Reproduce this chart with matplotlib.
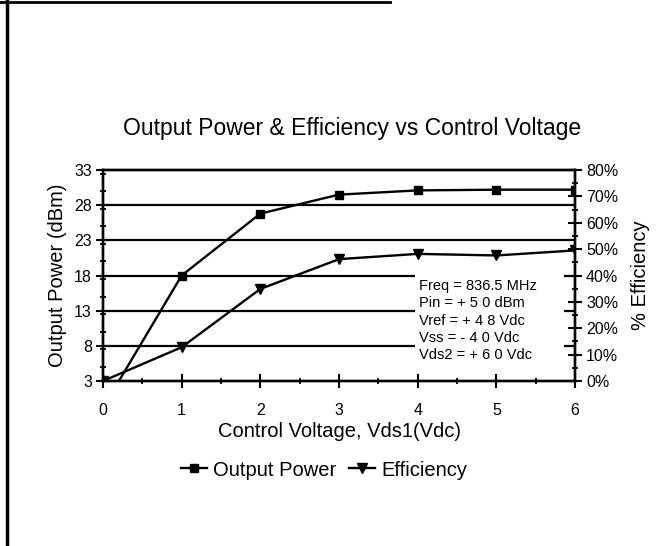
import numpy as np
import matplotlib
matplotlib.use("Agg")
import matplotlib.pyplot as plt
from matplotlib.ticker import MultipleLocator, PercentFormatter
from matplotlib.lines import Line2D
from matplotlib.patches import Rectangle

plt.rcParams['font.family'] = ['Liberation Sans', 'DejaVu Sans']

vds1 = [0, 1, 2, 3, 4, 5, 6]
output_power = [-0.8, 18.0, 26.8, 29.5, 30.1, 30.2, 30.2]   # dBm
efficiency = [0.0, 12.8, 34.9, 46.2, 48.2, 47.6, 49.5]      # %
power_ticks = [3, 8, 13, 18, 23, 28, 33]
conditions = ["Freq = 836.5 MHz", "Pin = + 5 0 dBm", "Vref = + 4 8 Vdc",
              "Vss = - 4 0 Vdc", "Vds2 = + 6 0 Vdc"]

fig = plt.figure(figsize=(6.64, 5.46), dpi=100)
ax = fig.add_axes([103 / 664, 1 - 381 / 546, 472 / 664, 211 / 546])
ax2 = ax.twinx()

# horizontal grid lines, drawn by hand so the note box can sit on top of them
for v in power_ticks[1:-1]:
    ax.axhline(v, color='black', lw=1.6, zorder=1)

ax.add_patch(Rectangle((3.96, 5.2), 1.9, 13.8, facecolor='white',
                       edgecolor='none', zorder=2))
ax.text(4.02, 11.6, "\n".join(conditions), fontsize=10.5, va='center',
        ha='left', linespacing=1.3, zorder=3)

ax.plot(vds1, output_power, color='black', lw=1.7, marker='s', ms=6, zorder=4)
ax2.plot(vds1, efficiency, color='black', lw=1.7, marker='v', ms=7)

ax.set_xlim(0, 6)
ax.set_ylim(3, 33)
ax2.set_ylim(0, 80)

ax.set_yticks(power_ticks)
ax.yaxis.set_minor_locator(MultipleLocator(2.5))
ax.xaxis.set_major_locator(MultipleLocator(1))
ax.xaxis.set_minor_locator(MultipleLocator(0.5))
ax2.yaxis.set_major_locator(MultipleLocator(10))
ax2.yaxis.set_minor_locator(MultipleLocator(5))
ax2.yaxis.set_major_formatter(PercentFormatter(decimals=0))

for a in (ax, ax2):
    a.tick_params(which='major', direction='inout', length=10, width=1.5,
                  labelsize=11.5, pad=3)
    a.tick_params(which='minor', direction='inout', length=4, width=1.3)
    for s in a.spines.values():
        s.set_linewidth(1.7)
ax.tick_params(axis='x', pad=11)

ax.set_xlabel("Control Voltage, Vds1(Vdc)", fontsize=14.5, labelpad=3)
ax.set_ylabel("Output Power (dBm)", fontsize=14.5, labelpad=5)
ax2.set_ylabel("% Efficiency", fontsize=14.5, labelpad=9)

fig.text(0.53, 1 - 129 / 546, "Output Power & Efficiency vs Control Voltage",
         ha='center', va='center', fontsize=16.5)

handles = [Line2D([], [], color='black', lw=1.7, marker='s', ms=6),
           Line2D([], [], color='black', lw=1.7, marker='v', ms=7)]
fig.legend(handles, ["Output Power", "Efficiency"], loc='center',
           bbox_to_anchor=(0.488, 1 - 470 / 546), ncol=2, frameon=False,
           fontsize=14.5, handlelength=1.3, handletextpad=0.3, columnspacing=0.6)

# page border remnants from the scan
fig.add_artist(Line2D([7 / 664, 7 / 664], [0, 1], color='black', lw=2.5))
fig.add_artist(Line2D([0, 390 / 664], [1 - 2 / 546, 1 - 2 / 546],
                      color='black', lw=2))

fig.savefig("out.png", dpi=100)
